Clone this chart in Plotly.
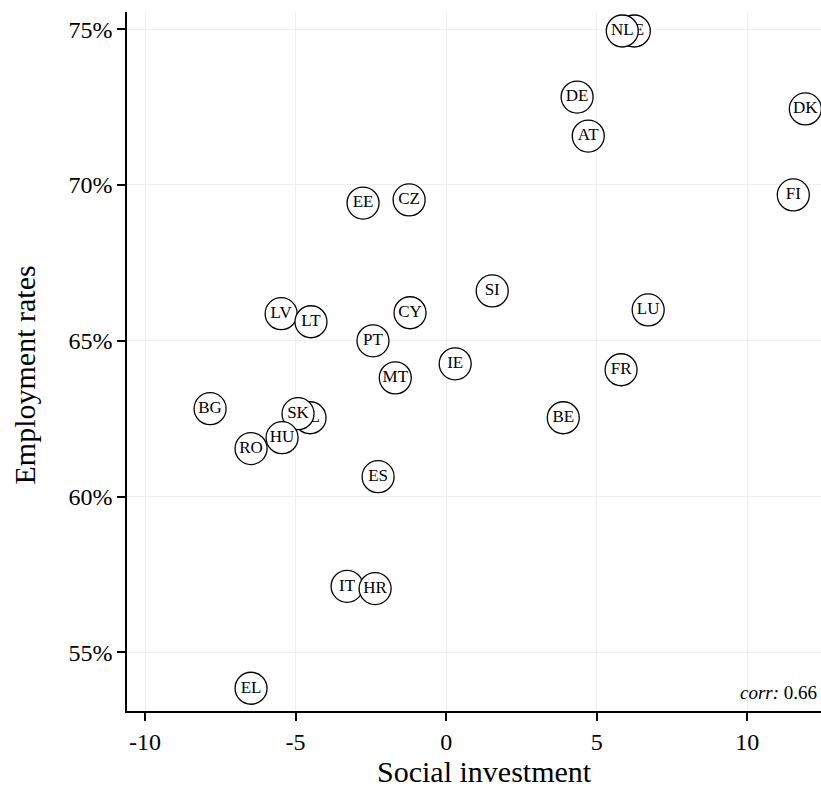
import plotly.graph_objects as go

countries = ["SE", "NL", "DE", "AT", "DK", "FI", "EE", "CZ", "SI", "LU", "CY", "LV", "LT",
             "PT", "IE", "FR", "MT", "BG", "PL", "SK", "BE", "RO", "HU", "ES", "IT", "HR", "EL"]
social_investment = [6.25, 5.85, 4.35, 4.72, 11.93, 11.53, -2.76, -1.23, 1.53, 6.71, -1.20, -5.48, -4.49,
                     -2.43, 0.30, 5.81, -1.69, -7.84, -4.52, -4.92, 3.89, -6.48, -5.45, -2.26, -3.29, -2.36, -6.48]
employment_rates = [74.94, 74.94, 72.82, 71.57, 72.44, 69.68, 69.42, 69.52, 66.60, 65.99, 65.90, 65.87, 65.61,
                    65.00, 64.26, 64.07, 63.81, 62.82, 62.53, 62.66, 62.53, 61.54, 61.89, 60.64, 57.12, 57.05, 53.85]
x_ticks = [-10, -5, 0, 5, 10]
y_ticks = [55, 60, 65, 70, 75]
y_tick_labels = ["55%", "60%", "65%", "70%", "75%"]
corr_value = 0.66
x_title = "Social investment"
y_title = "Employment rates"

FONT = "Liberation Serif"

fig = go.Figure()
for c, x, y in zip(countries, social_investment, employment_rates):
    fig.add_trace(go.Scatter(
        x=[x], y=[y], mode="markers+text", text=[c],
        textposition="middle center",
        textfont=dict(family=FONT, size=17, color="black"),
        marker=dict(size=32, color="white", line=dict(color="black", width=1.3)),
        showlegend=False, hoverinfo="skip", cliponaxis=False,
    ))

fig.add_annotation(
    x=1, y=0, xref="paper", yref="paper", xanchor="right", yanchor="bottom",
    text=f"<i>corr:</i> {corr_value:.2f}", showarrow=False,
    font=dict(family=FONT, size=19, color="black"), xshift=-2, yshift=6,
)
# axis titles
fig.add_annotation(
    x=0.515, y=0, xref="paper", yref="paper", xanchor="center", yanchor="middle",
    text=x_title, showarrow=False, yshift=-60,
    font=dict(family=FONT, size=30, color="black"),
)
fig.add_annotation(
    x=0, y=0.48, xref="paper", yref="paper", xanchor="center", yanchor="middle",
    text=y_title, showarrow=False, xshift=-103, textangle=-90,
    font=dict(family=FONT, size=30, color="black"),
)

axis_common = dict(
    showline=True, linecolor="black", linewidth=1.5,
    ticks="outside", ticklen=8, tickcolor="black", tickwidth=1.5,
    showgrid=True, gridcolor="#efefef", gridwidth=1, zeroline=False,
    tickfont=dict(family=FONT, size=24, color="black"),
)

fig.update_layout(
    width=821, height=792,
    margin=dict(l=127, r=0, t=12, b=81),
    plot_bgcolor="white", paper_bgcolor="white",
    font=dict(family=FONT, color="black"),
    xaxis=dict(range=[-10.6, 12.45], tickvals=x_ticks, ticktext=[str(v) for v in x_ticks],
               **axis_common),
    yaxis=dict(range=[53.12, 75.55], tickvals=y_ticks, ticktext=y_tick_labels,
               **axis_common),
)

fig.write_html("out.html", config={"displayModeBar": False},
               post_script="document.body.style.margin='0';document.body.style.overflow='hidden';")
